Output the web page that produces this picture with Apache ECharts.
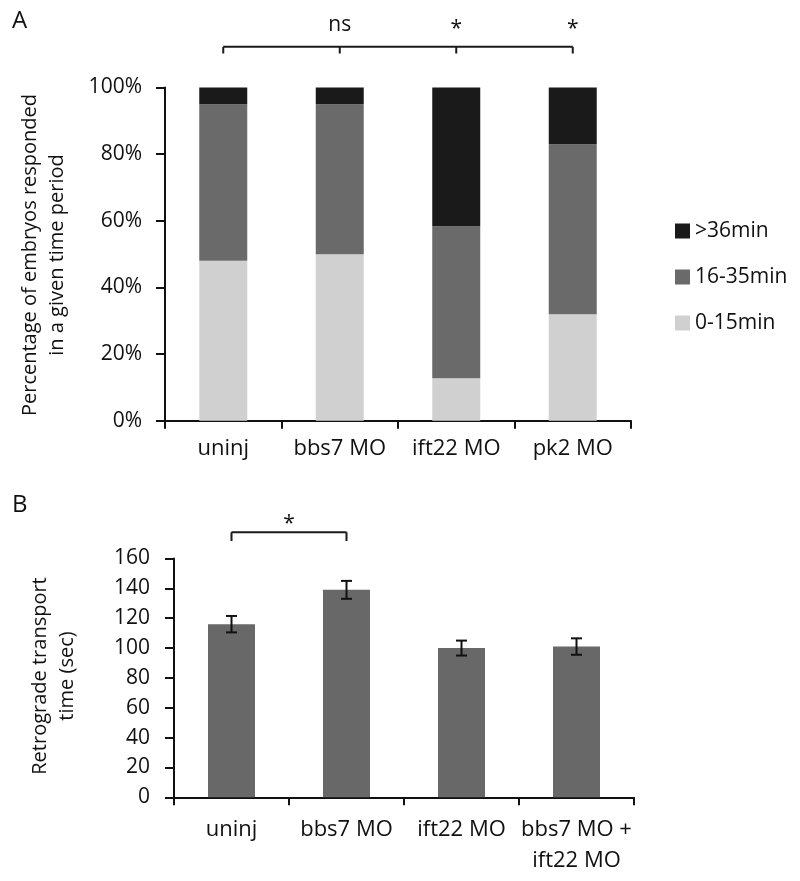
<!DOCTYPE html>
<html>
<head>
<meta charset="utf-8">
<script src="https://cdn.jsdelivr.net/npm/echarts@6/dist/echarts.min.js"></script>
<style>html,body{margin:0;padding:0;background:#fff;}#c{width:800px;height:881px;}</style>
</head>
<body>
<div id="c"></div>
<script>
// ---- Panel A data ----
const categoriesA = ['uninj', 'bbs7 MO', 'ift22 MO', 'pk2 MO'];
const shortA = [48, 50, 12.8, 32];    // 0-15min
const midA   = [47, 45, 45.6, 51];    // 16-35min
const longA  = [5, 5, 41.6, 17];      // >36min
const seriesNamesA = ['0-15min', '16-35min', '>36min'];
const legendOrderA = ['>36min', '16-35min', '0-15min'];
const yTicksA = [0, 20, 40, 60, 80, 100];
// significance bracket A: ticks at categories, bracket level (in %)
const bracketTicksA = [0, 1, 2, 3];
const bracketLevelA = [112.2, 110.2];
const sigLabelsA = [[1, 118.8, 'ns'], [2, 117.5, '*'], [3, 117.5, '*']];

// ---- Panel B data ----
const categoriesB = ['uninj', 'bbs7 MO', 'ift22 MO', 'bbs7 MO +\nift22 MO'];
const meansB = [116, 139, 100, 101];
const errB = [5.5, 6, 5, 5.5];
const yTicksB = [0, 20, 40, 60, 80, 100, 120, 140, 160];
const bracketTicksB = [0, 1];
const bracketLevelB = [177.6, 171.7];
const sigLabelsB = [[0.5, 183, '*']];

const FONT = '"Open Sans", sans-serif';
const TXT = '#111';
const colorsA = {'0-15min': '#d0d0d0', '16-35min': '#6a6a6a', '>36min': '#1a1a1a'};
const valuesA = {'0-15min': shortA, '16-35min': midA, '>36min': longA};

const chart = echarts.init(document.getElementById('c'), null, {renderer: 'canvas'});

function bracketRenderer(ticks, level, labels) {
  return function (params, api) {
    const children = [];
    const first = api.coord([ticks[0], level[0]]);
    const last = api.coord([ticks[ticks.length - 1], level[0]]);
    children.push({type: 'line', shape: {x1: first[0], y1: first[1], x2: last[0], y2: last[1]},
      style: {stroke: '#1a1a1a', lineWidth: 2}});
    ticks.forEach(function (t) {
      const a = api.coord([t, level[0]]);
      const b = api.coord([t, level[1]]);
      children.push({type: 'line', shape: {x1: a[0], y1: a[1], x2: b[0], y2: b[1]},
        style: {stroke: '#1a1a1a', lineWidth: 2}});
    });
    labels.forEach(function (l) {
      let p;
      if (Math.floor(l[0]) !== l[0]) {
        const p0 = api.coord([Math.floor(l[0]), l[1]]);
        const p1 = api.coord([Math.ceil(l[0]), l[1]]);
        p = [(p0[0] + p1[0]) / 2, p0[1]];
      } else {
        p = api.coord([l[0], l[1]]);
      }
      children.push({type: 'text', x: p[0], y: p[1],
        style: {text: l[2], font: '21px ' + FONT, fill: TXT, align: 'center', verticalAlign: 'middle'}});
    });
    return {type: 'group', children: children};
  };
}

const seriesA = seriesNamesA.map(function (n) {
  return {
    name: n, type: 'bar', stack: 'a', xAxisIndex: 0, yAxisIndex: 0,
    barWidth: 48, data: valuesA[n], itemStyle: {color: colorsA[n]}
  };
});

const option = {
  animation: false,
  backgroundColor: '#fff',
  textStyle: {fontFamily: FONT},
  grid: [
    {left: 165, top: 87.5, width: 466, height: 333.3},
    {left: 174, top: 558.5, width: 460, height: 238.8}
  ],
  legend: {
    data: legendOrderA, orient: 'vertical', left: 670, top: 214,
    itemWidth: 15, itemHeight: 15, itemGap: 22, itemTextGap: 6, icon: 'rect',
    textStyle: {fontFamily: FONT, fontSize: 21, color: TXT, lineHeight: 24},
    selectedMode: false
  },
  xAxis: [
    {type: 'category', gridIndex: 0, data: categoriesA,
      axisLine: {lineStyle: {color: '#111', width: 2}},
      axisTick: {show: true, length: 8, lineStyle: {color: '#111', width: 2}},
      axisLabel: {interval: 0, margin: 17, fontSize: 22, color: TXT, fontFamily: FONT}},
    {type: 'category', gridIndex: 1, data: categoriesB,
      axisLine: {lineStyle: {color: '#111', width: 2}},
      axisTick: {show: true, length: 8, lineStyle: {color: '#111', width: 2}},
      axisLabel: {interval: 0, margin: 17, fontSize: 22, lineHeight: 31, color: TXT, fontFamily: FONT}}
  ],
  yAxis: [
    {type: 'value', gridIndex: 0, min: yTicksA[0], max: yTicksA[yTicksA.length - 1], interval: yTicksA[1] - yTicksA[0],
      axisLine: {show: true, lineStyle: {color: '#111', width: 2}},
      axisTick: {show: true, length: 9, lineStyle: {color: '#111', width: 2}},
      splitLine: {show: false},
      axisLabel: {formatter: '{value}%', margin: 23, fontSize: 21, color: TXT, fontFamily: FONT}},
    {type: 'value', gridIndex: 1, min: yTicksB[0], max: yTicksB[yTicksB.length - 1], interval: yTicksB[1] - yTicksB[0],
      axisLine: {show: true, lineStyle: {color: '#111', width: 2}},
      axisTick: {show: true, length: 9, lineStyle: {color: '#111', width: 2}},
      splitLine: {show: false},
      axisLabel: {margin: 24, fontSize: 21, color: TXT, fontFamily: FONT}}
  ],
  series: seriesA.concat([
    {type: 'custom', name: 'bracketA', xAxisIndex: 0, yAxisIndex: 0, clip: false, z: 10,
      data: [[0, bracketLevelA[0]]], renderItem: bracketRenderer(bracketTicksA, bracketLevelA, sigLabelsA)},
    {type: 'bar', name: 'B', xAxisIndex: 1, yAxisIndex: 1, barWidth: 47, data: meansB,
      itemStyle: {color: '#686868'}},
    {type: 'custom', name: 'errB', xAxisIndex: 1, yAxisIndex: 1, z: 10, clip: false,
      data: meansB.map(function (m, i) { return [i, m - errB[i], m + errB[i]]; }),
      renderItem: function (params, api) {
        const lo = api.coord([api.value(0), api.value(1)]);
        const hi = api.coord([api.value(0), api.value(2)]);
        const w = 5.5;
        const st = {stroke: '#111', lineWidth: 2};
        return {type: 'group', children: [
          {type: 'line', shape: {x1: lo[0], y1: lo[1], x2: hi[0], y2: hi[1]}, style: st},
          {type: 'line', shape: {x1: lo[0] - w, y1: lo[1], x2: lo[0] + w, y2: lo[1]}, style: st},
          {type: 'line', shape: {x1: hi[0] - w, y1: hi[1], x2: hi[0] + w, y2: hi[1]}, style: st}
        ]};
      }},
    {type: 'custom', name: 'bracketB', xAxisIndex: 1, yAxisIndex: 1, clip: false, z: 10,
      data: [[0, bracketLevelB[0]]], renderItem: bracketRenderer(bracketTicksB, bracketLevelB, sigLabelsB)}
  ]),
  graphic: [
    {type: 'text', left: 12, top: 9, style: {text: 'A', font: '24px ' + FONT, fill: TXT}},
    {type: 'text', left: 12, top: 493, style: {text: 'B', font: '24px ' + FONT, fill: TXT}},
    {type: 'text', x: 44, y: 255, rotation: Math.PI / 2,
      style: {text: 'Percentage of embryos responded\nin a given time period', font: '20px ' + FONT,
        fill: TXT, align: 'center', verticalAlign: 'middle', lineHeight: 27}},
    {type: 'text', x: 54, y: 676, rotation: Math.PI / 2,
      style: {text: 'Retrograde transport\ntime (sec)', font: '20px ' + FONT,
        fill: TXT, align: 'center', verticalAlign: 'middle', lineHeight: 27}}
  ]
};
chart.setOption(option);
</script>
</body>
</html>
